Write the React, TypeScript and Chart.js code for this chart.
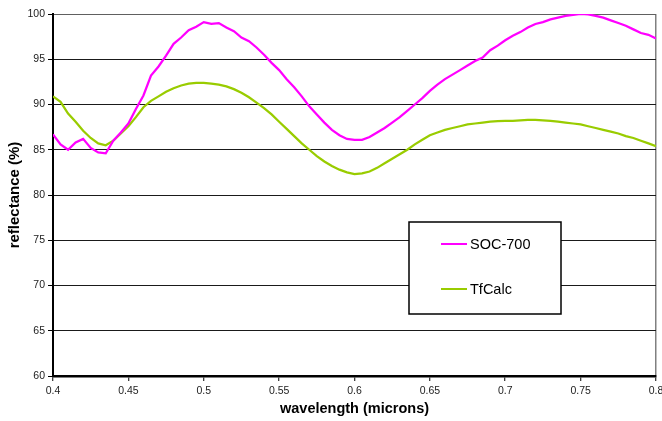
import React, { useEffect, useRef } from "react";
import { Chart, registerables } from "chart.js";

Chart.register(...registerables);

const wavelengths = [
  0.4, 0.405, 0.41, 0.415, 0.42, 0.425, 0.43, 0.435, 0.44, 0.445,
  0.45, 0.455, 0.46, 0.465, 0.47, 0.475, 0.48, 0.485, 0.49, 0.495,
  0.5, 0.505, 0.51, 0.515, 0.52, 0.525, 0.53, 0.535, 0.54, 0.545,
  0.55, 0.555, 0.56, 0.565, 0.57, 0.575, 0.58, 0.585, 0.59, 0.595,
  0.6, 0.605, 0.61, 0.615, 0.62, 0.625, 0.63, 0.635, 0.64, 0.645,
  0.65, 0.655, 0.66, 0.665, 0.67, 0.675, 0.68, 0.685, 0.69, 0.695,
  0.7, 0.705, 0.71, 0.715, 0.72, 0.725, 0.73, 0.735, 0.74, 0.745,
  0.75, 0.755, 0.76, 0.765, 0.77, 0.775, 0.78, 0.785, 0.79, 0.795,
  0.8,
];

const soc700 = [
  86.7, 85.6, 85.0, 85.8, 86.2, 85.2, 84.7, 84.6, 86.0, 86.9,
  87.9, 89.5, 91.0, 93.2, 94.2, 95.4, 96.7, 97.4, 98.2, 98.6,
  99.1, 98.9, 99.0, 98.5, 98.1, 97.4, 97.0, 96.3, 95.5, 94.6,
  93.8, 92.8, 91.9, 90.9, 89.8, 88.9, 88.0, 87.2, 86.6, 86.2,
  86.1, 86.1, 86.4, 86.9, 87.4, 88.0, 88.6, 89.3, 90.0, 90.7,
  91.5, 92.2, 92.8, 93.3, 93.8, 94.3, 94.8, 95.2, 96.0, 96.5,
  97.1, 97.6, 98.0, 98.5, 98.9, 99.1, 99.4, 99.6, 99.8, 99.9,
  100.0, 99.95, 99.8, 99.6, 99.3, 99.0, 98.7, 98.3, 97.9, 97.7,
  97.3,
];

const tfCalc = [
  90.9, 90.3, 89.0, 88.1, 87.1, 86.3, 85.7, 85.5, 86.0, 86.8,
  87.6, 88.6, 89.7, 90.4, 90.9, 91.4, 91.8, 92.1, 92.3, 92.4,
  92.4, 92.3, 92.2, 92.0, 91.7, 91.3, 90.8, 90.2, 89.6, 88.9,
  88.1, 87.3, 86.5, 85.7, 85.0, 84.3, 83.7, 83.2, 82.8, 82.5,
  82.3, 82.4, 82.6, 83.0, 83.5, 84.0, 84.5, 85.0, 85.6, 86.1,
  86.6, 86.9, 87.2, 87.4, 87.6, 87.8, 87.9, 88.0, 88.1, 88.15,
  88.2, 88.2, 88.25, 88.3, 88.3, 88.25, 88.2, 88.1, 88.0, 87.9,
  87.8, 87.6, 87.4, 87.2, 87.0, 86.8, 86.5, 86.3, 86.0, 85.7,
  85.4,
];

const xTicks = [0.4, 0.45, 0.5, 0.55, 0.6, 0.65, 0.7, 0.75, 0.8];
const xTickLabels = ["0.4", "0.45", "0.5", "0.55", "0.6", "0.65", "0.7", "0.75", "0.8"];
const yTicks = [60, 65, 70, 75, 80, 85, 90, 95, 100];

const seriesNames = ["SOC-700", "TfCalc"];
const seriesColors = ["#FF00FF", "#99CC00"];

const FONT = "Arial, 'Liberation Sans', sans-serif";

const legendPlugin = {
  id: "boxLegend",
  afterDraw(chart: any) {
    const ctx = chart.ctx;
    const bx = 409, by = 222, bw = 152, bh = 92;
    ctx.save();
    ctx.fillStyle = "#fff";
    ctx.fillRect(bx, by, bw, bh);
    ctx.strokeStyle = "#000";
    ctx.lineWidth = 1.5;
    ctx.strokeRect(bx, by, bw, bh);
    chart.data.datasets.forEach((ds: any, i: number) => {
      const y = by + 22 + i * 45;
      ctx.strokeStyle = ds.borderColor;
      ctx.lineWidth = 2;
      ctx.beginPath();
      ctx.moveTo(441, y);
      ctx.lineTo(467, y);
      ctx.stroke();
      ctx.fillStyle = "#000";
      ctx.font = `14.5px ${FONT}`;
      ctx.textBaseline = "middle";
      ctx.textAlign = "left";
      ctx.fillText(ds.label, 470, y + 0.5);
    });
    ctx.restore();
  },
};

export default function App() {
  const ref = useRef<HTMLCanvasElement | null>(null);

  useEffect(() => {
    if (!ref.current) return;
    const chart = new Chart(ref.current, {
      type: "line",
      data: {
        datasets: [soc700, tfCalc].map((vals, i) => ({
          label: seriesNames[i],
          data: wavelengths.map((w, j) => ({ x: w, y: vals[j] })),
          borderColor: seriesColors[i],
          backgroundColor: seriesColors[i],
          borderWidth: 2.25,
          pointRadius: 0,
          tension: 0,
          fill: false,
        })),
      },
      options: {
        animation: false,
        responsive: false,
        events: [],
        layout: { padding: { top: 14, right: 6, left: 0, bottom: 0 } },
        plugins: {
          legend: { display: false },
          tooltip: { enabled: false },
        },
        scales: {
          x: {
            type: "linear",
            min: 0.4,
            max: 0.8,
            afterFit(scale: any) {
              scale.height = 45;
              scale.paddingLeft = 0;
              scale.paddingRight = 0;
            },
            afterBuildTicks(scale: any) {
              scale.ticks = xTicks.map((v) => ({ value: v }));
            },
            ticks: {
              autoSkip: false,
              maxRotation: 0,
              padding: 4,
              color: "#222",
              font: { family: FONT, size: 10.5 },
              callback: (v: any, i: number) => xTickLabels[i],
            },
            grid: {
              color: (c: any) =>
                c.tick && c.tick.value === 0.8 ? "#808080" : "rgba(0,0,0,0)",
              lineWidth: 1.5,
              tickColor: "#000",
              tickLength: 5,
              tickWidth: 1,
            },
            border: { display: true, color: "#000", width: 2.5 },
            title: {
              display: true,
              text: "wavelength (microns)",
              color: "#000",
              font: { family: FONT, size: 14.5, weight: "bold" },
              padding: { top: 0, bottom: 3 },
            },
          },
          y: {
            type: "linear",
            min: 60,
            max: 100,
            afterFit(scale: any) {
              scale.width = 53;
              scale.paddingTop = 0;
              scale.paddingBottom = 0;
            },
            afterBuildTicks(scale: any) {
              scale.ticks = yTicks.map((v) => ({ value: v }));
            },
            ticks: {
              padding: 3,
              color: "#222",
              font: { family: FONT, size: 10.5 },
              callback: (v: any) => String(v),
            },
            grid: {
              color: (c: any) => (c.tick && c.tick.value === 100 ? "#606060" : "#1a1a1a"),
              lineWidth: 1,
              tickColor: "#000",
              tickLength: 5,
            },
            border: { display: true, color: "#000", width: 2 },
            title: {
              display: true,
              text: "reflectance (%)",
              color: "#000",
              font: { family: FONT, size: 15, weight: "bold" },
              padding: { top: 6, bottom: 0 },
            },
          },
        },
      },
      plugins: [legendPlugin],
    } as any);
    return () => chart.destroy();
  }, []);

  return (
    <div style={{ position: "absolute", left: 0, top: 0, width: 662, height: 421, background: "#fff" }}>
      <canvas ref={ref} width={662} height={421} style={{ display: "block" }} />
    </div>
  );
}
